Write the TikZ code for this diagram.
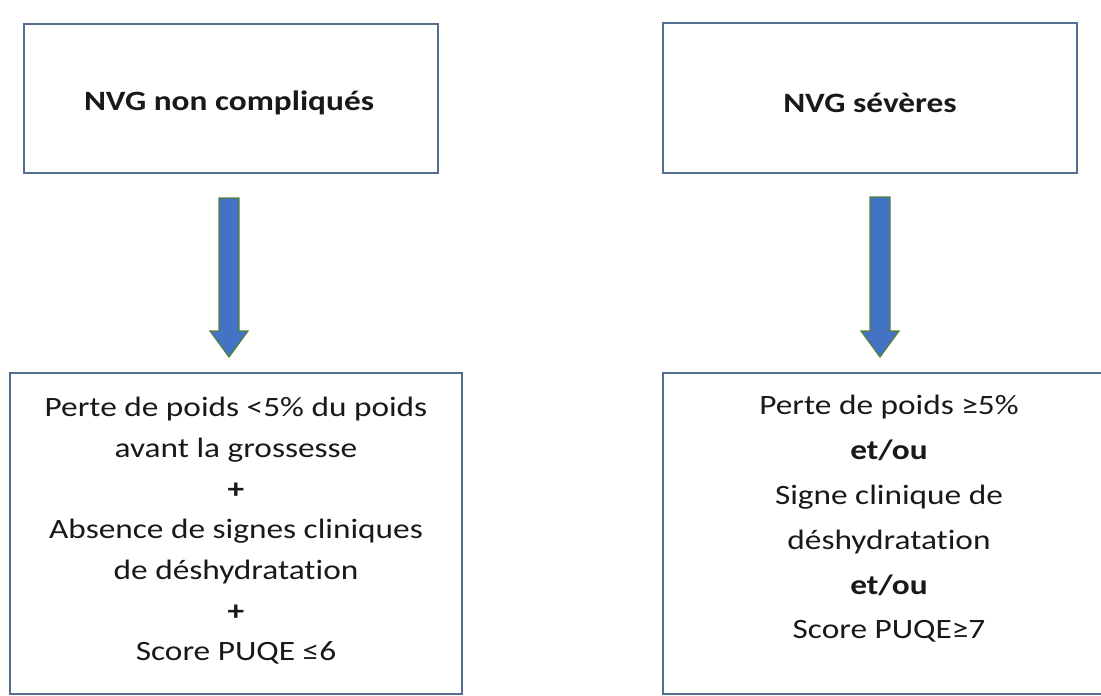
\documentclass[tikz,border=0pt]{standalone}
\usepackage{fontspec}
\setmainfont{Carlito}[FakeStretch=1.19, RawFeature=-liga]
\definecolor{boxline}{RGB}{84,110,145}
\definecolor{arrfill}{RGB}{68,114,196}
\definecolor{arrline}{RGB}{84,130,53}
\tikzset{
  box/.style={draw=boxline, line width=1.6pt, fill=white},
  lbl/.style={font=\fontsize{28}{40.7}\selectfont, align=center, text=black!90},
  arrowshape/.style={fill=arrfill, draw=arrline, line width=1.2pt, line join=miter}
}
\begin{document}
\begin{tikzpicture}[x=1pt,y=-1pt]
\useasboundingbox (0,0) rectangle (1101,696);
% top boxes
\draw[box] (24,24) rectangle (438,173);
\node[lbl, font=\bfseries\fontsize{28}{32}\selectfont] (tl) at (229,103) {NVG non compliqués};
\draw[box] (663,23) rectangle (1077,173);
\node[lbl, font=\bfseries\fontsize{28}{32}\selectfont] (tr) at (870,103) {NVG sévères};
% bottom boxes
\draw[box] (10,373) rectangle (462,694);
\node[lbl] (bl) at (236,531) {Perte de poids <5\% du poids\\avant la grossesse\\\textbf{+}\\Absence de signes cliniques\\de déshydratation\\\textbf{+}\\Score PUQE ≤6};
\draw[box] (663,373) rectangle (1115,694);
\node[lbl, font=\fontsize{28}{44.8}\selectfont] (br) at (889,519) {Perte de poids ≥5\%\\\textbf{et/ou}\\Signe clinique de\\déshydratation\\\textbf{et/ou}\\Score PUQE≥7};
% arrows
\draw[arrowshape] (219,198) -- (239,198) -- (239,331) -- (248,331) -- (229,357) -- (210,331) -- (219,331) -- cycle;
\draw[arrowshape] (870,197) -- (890,197) -- (890,331) -- (899,331) -- (880,357) -- (861,331) -- (870,331) -- cycle;
\end{tikzpicture}
\end{document}
